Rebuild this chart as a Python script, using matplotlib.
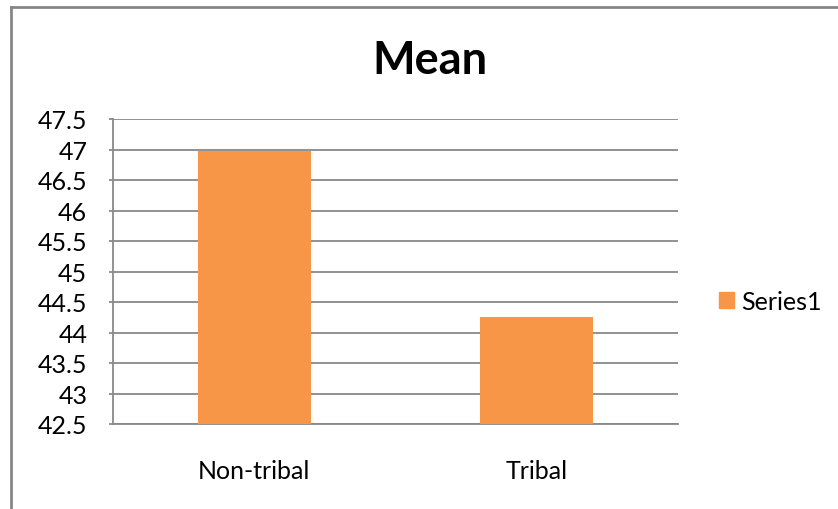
import matplotlib
matplotlib.use("Agg")
import matplotlib.pyplot as plt
from matplotlib.lines import Line2D
from matplotlib.patches import Patch

categories = ["Non-tribal", "Tribal"]
values = [46.97, 44.26]
series_name = "Series1"
yticks = [42.5, 43, 43.5, 44, 44.5, 45, 45.5, 46, 46.5, 47, 47.5]
title = "Mean"

plt.rcParams['font.family'] = ['Lato', 'DejaVu Sans']

fig = plt.figure(figsize=(8.38, 5.10), dpi=100)
ax = fig.add_axes([113/838, 1-425/510, (678-113)/838, (425-120)/510])

grid_c = "#898989"
x = list(range(len(categories)))
ax.bar(x, values, width=0.4, color="#F79646", zorder=3, label=series_name)
ax.set_xlim(-0.5, len(categories)-0.5)
ax.set_ylim(42.5, 47.5)
ax.set_yticks(yticks)
ax.set_yticklabels([f"{v:g}" for v in yticks], fontsize=18)
ax.set_xticks(x)
ax.set_xticklabels(categories, fontsize=18)
ax.yaxis.grid(True, color=grid_c, linewidth=1.3, zorder=0)
for s in ["top", "right"]:
    ax.spines[s].set_visible(False)
for s in ["left", "bottom"]:
    ax.spines[s].set_color(grid_c)
    ax.spines[s].set_linewidth(1.3)
ax.tick_params(axis='y', length=3, color=grid_c, width=1.3, pad=15.5)
ax.tick_params(axis='x', length=0, pad=25.5)

ax.set_title(title, fontsize=32.5, fontweight='bold', pad=33, x=(430-113)/(678-113))

fig.legend(handles=[Patch(color="#F79646", label=series_name)],
           loc='center left', bbox_to_anchor=(719/838, 1-302/510),
           frameon=False, fontsize=18, handlelength=0.6, handleheight=0.6,
           handletextpad=0.3, borderaxespad=0, borderpad=0)

# chart border (left and top visible)
fig.add_artist(Line2D([10.5/838, 10.5/838], [0, 1-7.5/510], color="#868686", linewidth=2, transform=fig.transFigure))
fig.add_artist(Line2D([10.5/838, 1], [1-7.5/510, 1-7.5/510], color="#868686", linewidth=2, transform=fig.transFigure))

fig.savefig("out.png", dpi=100)
